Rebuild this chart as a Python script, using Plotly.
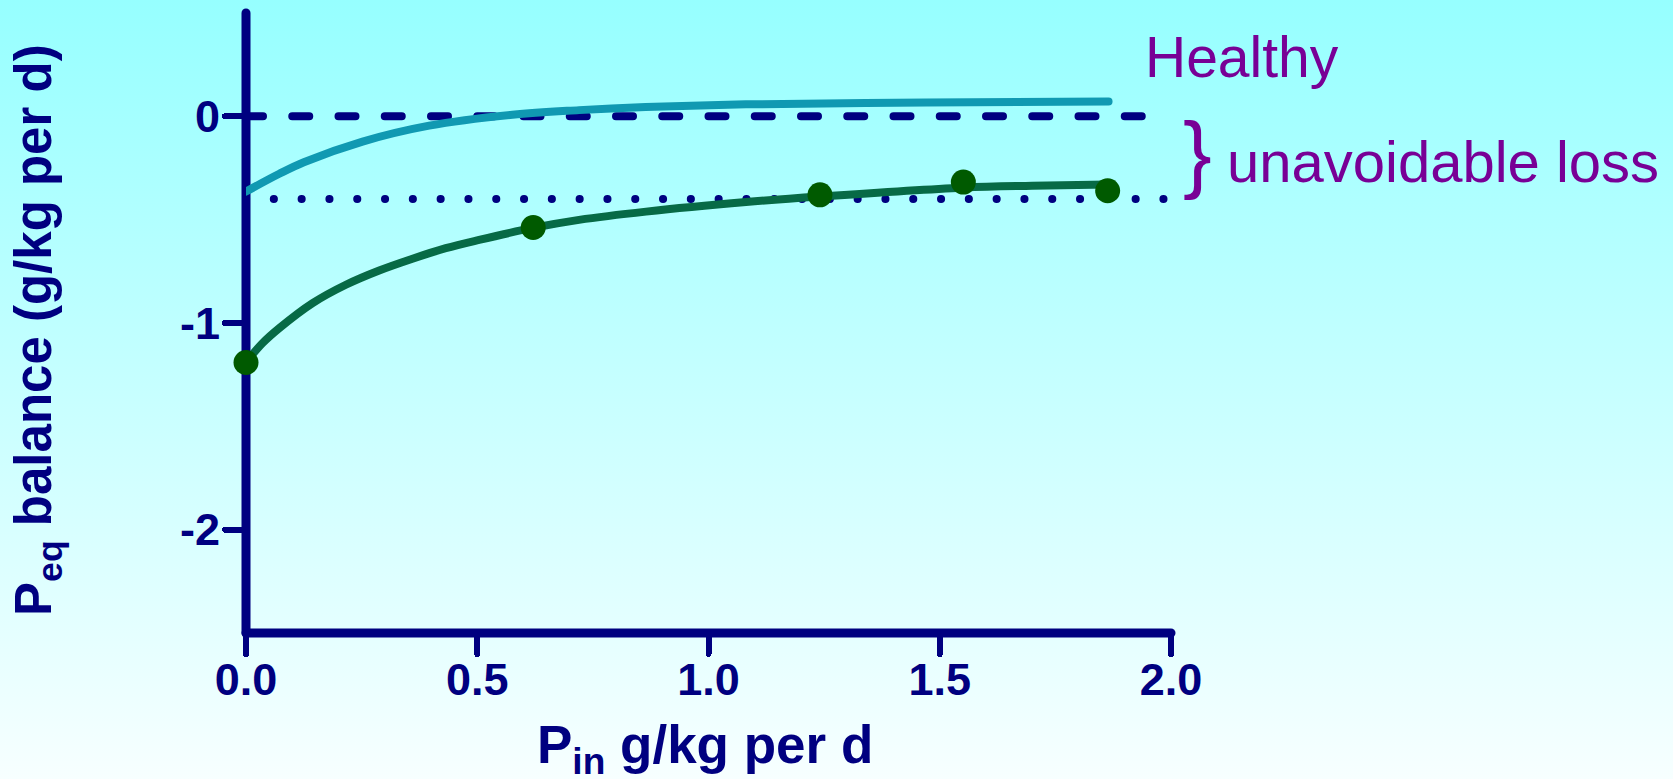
import base64
import plotly.graph_objects as go

# ---- data ----
healthy_x = [0, 0.072, 0.125, 0.252, 0.396, 0.576, 0.72, 0.864, 1.081, 1.471, 1.865]
healthy_y = [-0.364, -0.278, -0.222, -0.122, -0.045, 0.008, 0.030, 0.045, 0.058, 0.067, 0.072]

patient_x = [0, 0.036, 0.072, 0.144, 0.216, 0.288, 0.36, 0.432, 0.504, 0.62, 0.72, 0.865,
             1.081, 1.24, 1.55, 1.70, 1.863]
patient_y = [-1.19, -1.097, -1.025, -0.904, -0.815, -0.746, -0.689, -0.638, -0.598, -0.540,
             -0.501, -0.461, -0.415, -0.388, -0.345, -0.336, -0.330]

points_x = [0, 0.621, 1.241, 1.551, 1.863]
points_y = [-1.191, -0.538, -0.380, -0.318, -0.360]

zero_line_x = [0, 2.0]
zero_line_y = [0, 0]
loss_line_x = [0, 2.0]
loss_line_y = [-0.40, -0.40]

x_ticks = [0, 0.5, 1.0, 1.5, 2.0]
x_ticktext = ["0.0", "0.5", "1.0", "1.5", "2.0"]
y_ticks = [-2, -1, 0]
y_ticktext = ["-2", "-1", "0"]

NAVY = "#000080"
PURPLE = "#780096"
CYAN = "#1099B2"
GREEN_LINE = "#076A46"
GREEN_PT = "#005A00"
FONT = "Liberation Sans, Arial, sans-serif"

W, H = 1673, 779
ML, MR, MT, MB = 246, 502, 13, 146
PW, PH = W - ML - MR, H - MT - MB

fig = go.Figure()
fig.add_trace(go.Scatter(x=zero_line_x, y=zero_line_y, mode="lines",
                         line=dict(color=NAVY, width=8, dash="17px,29.25px"),
                         hoverinfo="skip", showlegend=False))
fig.add_trace(go.Scatter(x=loss_line_x, y=loss_line_y, mode="lines",
                         line=dict(color=NAVY, width=8, dash="0.1px,27.7px"),
                         hoverinfo="skip", showlegend=False))
fig.add_trace(go.Scatter(x=healthy_x, y=healthy_y, mode="lines",
                         line=dict(color=CYAN, width=8, shape="spline", smoothing=1.0),
                         showlegend=False))
fig.add_trace(go.Scatter(x=patient_x, y=patient_y, mode="lines",
                         line=dict(color=GREEN_LINE, width=8, shape="spline", smoothing=1.0),
                         showlegend=False))
fig.add_trace(go.Scatter(x=points_x, y=points_y, mode="markers",
                         marker=dict(color=GREEN_PT, size=25, line=dict(width=0)),
                         cliponaxis=False, showlegend=False))

svg = ("<svg xmlns='http://www.w3.org/2000/svg' width='10' height='100' viewBox='0 0 10 100' "
       "preserveAspectRatio='none'><defs><linearGradient id='g' x1='0' y1='0' x2='0' y2='1'>"
       "<stop offset='0' stop-color='#96FFFF'/><stop offset='1' stop-color='#F7FFFF'/>"
       "</linearGradient></defs><rect x='0' y='0' width='10' height='100' fill='url(#g)'/></svg>")
src = "data:image/svg+xml;base64," + base64.b64encode(svg.encode()).decode()

fig.add_layout_image(dict(source=src, xref="paper", yref="paper",
                          x=-ML / PW, y=1 + MT / PH, sizex=W / PW, sizey=H / PH,
                          xanchor="left", yanchor="top", sizing="stretch", layer="below"))

axis_common = dict(showline=False, ticks="outside",
                   ticklen=20, tickwidth=6, tickcolor=NAVY, showgrid=False,
                   zeroline=False, layer="below traces",
                   tickfont=dict(family=FONT, size=45, color=NAVY, weight="bold"))

fig.update_xaxes(range=[0, 2], tickvals=x_ticks, ticktext=x_ticktext,
                 ticklabelstandoff=-13, **axis_common)
fig.update_yaxes(range=[-2.5, 0.5], tickvals=y_ticks, ticktext=y_ticktext,
                 ticklabelstandoff=-4, **axis_common)

# axis lines centred on the plot-area edges
fig.add_shape(type="line", xref="paper", yref="paper", x0=0, x1=0, y0=0, y1=1,
              line=dict(color=NAVY, width=9), layer="below")
fig.add_shape(type="line", xref="paper", yref="paper", x0=0, x1=1, y0=0, y1=0,
              line=dict(color=NAVY, width=9), layer="below")

fig.update_layout(
    width=W, height=H,
    margin=dict(l=ML, r=MR, t=MT, b=MB, pad=0),
    paper_bgcolor="#C8FFFF", plot_bgcolor="rgba(0,0,0,0)",
    annotations=[
        dict(text="P<sub>eq</sub> balance (g/kg per d)", textangle=-90,
             xref="paper", yref="paper", x=(38 - ML) / PW, y=0.5 - 7 / PH,
             xanchor="center", yanchor="middle", showarrow=False,
             font=dict(family=FONT, size=51, color=NAVY, weight="bold")),
        dict(text="P<sub>in</sub> g/kg per d",
             xref="paper", yref="paper", x=(705 - ML) / PW, y=(MT + PH - 748) / PH,
             xanchor="center", yanchor="middle", showarrow=False,
             font=dict(family=FONT, size=53, color=NAVY, weight="bold")),
        dict(text="Healthy", xref="paper", yref="paper",
             x=(1242 - ML) / PW, y=(MT + PH - 57) / PH,
             xanchor="center", yanchor="middle", showarrow=False,
             font=dict(family=FONT, size=57, color=PURPLE)),
        dict(text="}", xref="paper", yref="paper",
             x=(1197 - ML) / PW, y=(MT + PH - 152) / PH,
             xanchor="center", yanchor="middle", showarrow=False,
             font=dict(family=FONT, size=86, color=PURPLE)),
        dict(text="unavoidable loss", xref="paper", yref="paper",
             x=(1225 - ML) / PW, y=(MT + PH - 161) / PH,
             xanchor="left", yanchor="middle", showarrow=False,
             font=dict(family=FONT, size=58, color=PURPLE)),
    ],
)

post = ("document.body.style.margin='0';"
        "var s=document.createElement('style');"
        "s.textContent='body{margin:0 !important;}"
        "path.js-line,.shapelayer path,path.ticks{stroke-linecap:round !important;}';"
        "document.head.appendChild(s);")

fig.write_html("out.html", post_script=post, config={"displayModeBar": False})
